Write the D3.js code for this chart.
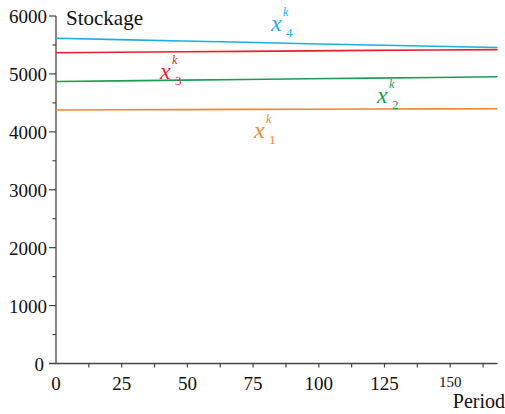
<!DOCTYPE html>
<html><head><meta charset="utf-8">
<script src="https://cdn.jsdelivr.net/npm/d3@7"></script>
<style>body{margin:0;background:#fff}svg{display:block}</style>
</head><body>
<script>
const periods = [0, 24, 48, 72, 96, 120, 144, 168];
const x1 = [4378, 4381, 4384, 4387, 4390, 4393, 4396, 4398];
const x2 = [4868, 4880, 4892, 4904, 4916, 4927, 4938, 4950];
const x3 = [5366, 5374, 5382, 5390, 5398, 5406, 5413, 5420];
const x4 = [5615, 5592, 5568, 5546, 5522, 5500, 5477, 5455];
const seriesNames = ["1", "2", "3", "4"];
const xTicks = [0, 25, 50, 75, 100, 125, 150];
const yTicks = [0, 1000, 2000, 3000, 4000, 5000, 6000];

const W = 505, H = 414;
const svg = d3.select("body").append("svg").attr("width", W).attr("height", H);
const x = d3.scaleLinear().domain([0, 168]).range([56, 497.5]);
const y = d3.scaleLinear().domain([0, 6000]).range([363.5, 16]);
const axisColor = "#444";
const serif = "'Liberation Serif', 'Times New Roman', serif";

const gx = svg.append("g").attr("transform", "translate(0,363.5)");
gx.append("line").attr("x1", 49).attr("x2", 497.5).attr("stroke", axisColor).attr("stroke-width", 1.3);
const xMinor = d3.range(12.5, 168, 12.5);
gx.selectAll("line.t").data(xMinor).join("line").attr("class", "t")
  .attr("x1", d => x(d)).attr("x2", d => x(d)).attr("y1", 0).attr("y2", 4)
  .attr("stroke", axisColor).attr("stroke-width", 1.2);
gx.selectAll("text").data(xTicks).join("text")
  .attr("x", d => x(d)).attr("y", d => d === 150 ? 23 : 26).attr("text-anchor", "middle")
  .attr("font-family", serif).attr("font-size", d => d === 150 ? 15 : 19).attr("fill", "#111")
  .text(d => d);

const gy = svg.append("g");
gy.append("line").attr("x1", x(0)).attr("x2", x(0)).attr("y1", y(0)).attr("y2", y(6000))
  .attr("stroke", axisColor).attr("stroke-width", 1.3);
const yMinor = d3.range(500, 6001, 500);
gy.selectAll("line.t").data(yMinor).join("line").attr("class", "t")
  .attr("x1", d => d % 1000 === 0 ? x(0) - 7 : x(0) - 3.5).attr("x2", x(0))
  .attr("y1", d => y(d)).attr("y2", d => y(d))
  .attr("stroke", axisColor).attr("stroke-width", 1.2);
gy.selectAll("text").data(yTicks).join("text")
  .attr("x", d => d === 0 ? 44 : 47).attr("y", d => y(d) + 7).attr("text-anchor", "end")
  .attr("font-family", serif).attr("font-size", 19).attr("fill", "#111")
  .text(d => d);

svg.append("text").attr("x", 66).attr("y", 25).attr("font-family", serif).attr("font-size", 21)
  .attr("fill", "#111").text("Stockage");
svg.append("text").attr("x", 505).attr("y", 408).attr("text-anchor", "end").attr("font-family", serif)
  .attr("font-size", 20).attr("fill", "#111").text("Period");

const colors = ["#f0872f", "#1a9e52", "#e8202c", "#1aaee8"];
const data = [x1, x2, x3, x4];
const line = d3.line().x((d, i) => x(periods[i])).y(d => y(d));
svg.selectAll("path.s").data(data).join("path").attr("class", "s")
  .attr("d", line).attr("fill", "none").attr("stroke", (d, i) => colors[i]).attr("stroke-width", 1.6);

const labelPos = [[254, 138], [377, 103], [160, 79], [271, 31]];
seriesNames.forEach((n, i) => {
  const [lx, ly] = labelPos[i];
  const g = svg.append("g").attr("fill", colors[i]).attr("font-family", serif).attr("font-style", "italic");
  g.append("text").attr("x", lx).attr("y", ly).attr("font-size", 24).text("x");
  g.append("text").attr("x", lx + 12).attr("y", ly - 15).attr("font-size", 12).text("k");
  g.append("text").attr("x", lx + 15).attr("y", ly + 6).attr("font-size", 13).attr("font-style", "normal").text(n);
});
</script>
</body></html>
